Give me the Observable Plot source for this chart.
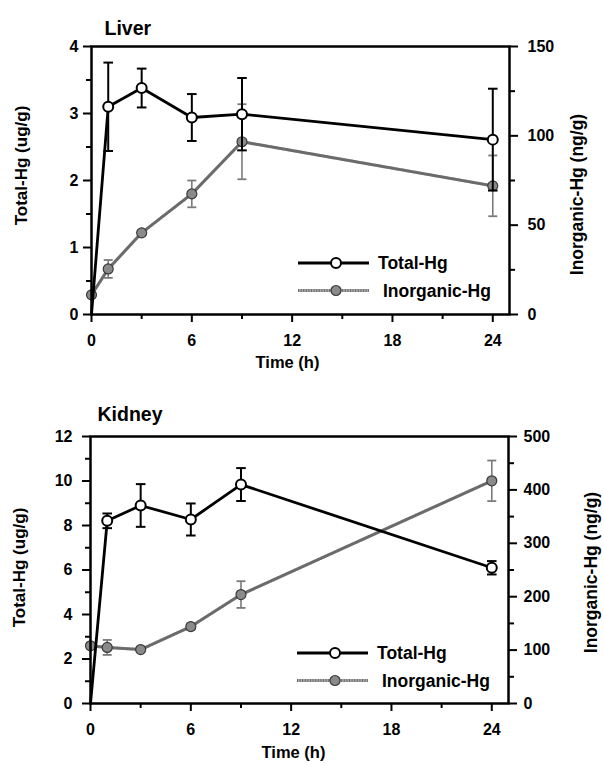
<!DOCTYPE html>
<html><head><meta charset="utf-8">
<script src="https://cdn.jsdelivr.net/npm/d3@7"></script>
<script src="https://cdn.jsdelivr.net/npm/@observablehq/plot@0.6"></script>
<style>
body{margin:0;background:#fff;}
#root{width:604px;height:766px;position:relative;overflow:hidden;background:#fff;}
svg{display:block;}
</style>
</head><body><div id="root"></div>
<script>
// ---- data ----
const times = [0, 1, 3, 6, 9, 24];
const xMajorTicks = [0, 6, 12, 18, 24];
const xMinorTicks = [3, 9, 15, 21];
const seriesNames = ["Total-Hg", "Inorganic-Hg"];
const xLabel = "Time (h)";
const leftLabel = "Total-Hg (ug/g)";
const rightLabel = "Inorganic-Hg (ng/g)";

const liverTitle = "Liver";
const liverTotal = [0, 3.10, 3.38, 2.94, 2.99, 2.61];
const liverTotalErr = [0, 0.66, 0.29, 0.35, 0.54, 0.76];
const liverInorg = [11, 25.5, 45.7, 67.5, 96.7, 72];
const liverInorgErr = [0, 5, 1.5, 7.5, 21, 17];
const liverLeftTicks = [0, 1, 2, 3, 4];
const liverLeftMinor = [0.5, 1.5, 2.5, 3.5];
const liverRightTicks = [0, 50, 100, 150];
const liverRightMinor = [25, 75, 125];

const kidneyTitle = "Kidney";
const kidneyTotal = [0, 8.21, 8.9, 8.27, 9.84, 6.1];
const kidneyTotalErr = [0, 0.33, 0.96, 0.72, 0.74, 0.3];
const kidneyInorg = [108, 105, 101, 144, 204, 417];
const kidneyInorgErr = [5, 14, 3, 6, 25, 38];
const kidneyLeftTicks = [0, 2, 4, 6, 8, 10, 12];
const kidneyLeftMinor = [1, 3, 5, 7, 9, 11];
const kidneyRightTicks = [0, 100, 200, 300, 400, 500];
const kidneyRightMinor = [50, 150, 250, 350, 450];

// ---- styling ----
const FONT = '"Liberation Sans", Arial, Helvetica, sans-serif';
const INORG_BASE = "#a8a8a8";
const INORG_DARK = "#4a4a4a";

const capSymbol = { draw(ctx, size) { const r = Math.sqrt(size / Math.PI); ctx.moveTo(-r, 0); ctx.lineTo(r, 0); } };

function panel(cfg) {
  const k = cfg.yMax / cfg.rMax;
  const rows = times.map((t, i) => ({
    t,
    total: cfg.total[i], tErr: cfg.totalErr[i],
    inorg: cfg.inorg[i] * k, iErr: cfg.inorgErr[i] * k
  }));
  const tot = rows.filter(d => d.t > 0);
  const totE = rows.filter(d => d.tErr > 0);
  const inoE = rows.filter(d => d.iErr > 0);
  const svg = Plot.plot({
    width: 604, height: 383,
    marginLeft: cfg.m[0], marginRight: cfg.m[1], marginTop: cfg.m[2], marginBottom: cfg.m[3],
    x: { domain: [0, 25] },
    y: { domain: [0, cfg.yMax] },
    style: { fontFamily: FONT, fontSize: "16px", fontWeight: "bold", color: "black", background: "transparent" },
    marks: [
      // inorganic error bars
      Plot.ruleX(inoE, { x: "t", y1: d => d.inorg - d.iErr, y2: d => d.inorg + d.iErr, stroke: "#7a7a7a", strokeWidth: 1.6 }),
      Plot.dot(inoE, { x: "t", y: d => d.inorg - d.iErr, symbol: capSymbol, r: 4.5, stroke: "#7a7a7a", strokeWidth: 1.8 }),
      Plot.dot(inoE, { x: "t", y: d => d.inorg + d.iErr, symbol: capSymbol, r: 4.5, stroke: "#7a7a7a", strokeWidth: 1.8 }),
      // inorganic line
      Plot.line(rows, { x: "t", y: "inorg", stroke: INORG_BASE, strokeWidth: 3 }),
      Plot.line(rows, { x: "t", y: "inorg", stroke: INORG_DARK, strokeWidth: 3, strokeDasharray: "1 1.6", strokeOpacity: 0.65 }),
      Plot.dot(rows, { x: "t", y: "inorg", r: 5, fill: "#8a8a8a", stroke: "#3a3a3a", strokeWidth: 1.2 }),
      // total error bars
      Plot.ruleX(totE, { x: "t", y1: d => d.total - d.tErr, y2: d => d.total + d.tErr, stroke: "black", strokeWidth: 2 }),
      Plot.dot(totE, { x: "t", y: d => d.total - d.tErr, symbol: capSymbol, r: 4.8, stroke: "black", strokeWidth: 2 }),
      Plot.dot(totE, { x: "t", y: d => d.total + d.tErr, symbol: capSymbol, r: 4.8, stroke: "black", strokeWidth: 2 }),
      // total line
      Plot.line(rows, { x: "t", y: "total", stroke: "black", strokeWidth: 2.8 }),
      Plot.dot(tot, { x: "t", y: "total", r: 5, fill: "white", stroke: "black", strokeWidth: 2 }),
      // frame & axes
      Plot.frame({ stroke: "black", strokeWidth: 2.5 }),
      Plot.axisX({ ticks: xMajorTicks, tickSize: 8, tickPadding: cfg.xPad, strokeWidth: 2, label: null, fontSize: 16, tickFormat: d => String(d) }),
      Plot.axisX({ ticks: xMinorTicks, tickSize: 5, strokeWidth: 2, tickFormat: () => "", label: null }),
      Plot.axisY({ ticks: cfg.leftTicks, anchor: "left", tickSize: 8, tickPadding: cfg.lPad, strokeWidth: 2, label: null, fontSize: 16, tickFormat: d => String(d) }),
      Plot.axisY({ ticks: cfg.leftMinor, anchor: "left", tickSize: 5, strokeWidth: 2, tickFormat: () => "", label: null }),
      Plot.axisY({ ticks: cfg.rightTicks.map(v => v * k), anchor: "right", tickSize: 8, tickPadding: cfg.rPad, strokeWidth: 2,
        tickFormat: d => String(Math.round(d / k)), label: null, fontSize: 16 }),
      Plot.axisY({ ticks: cfg.rightMinor.map(v => v * k), anchor: "right", tickSize: 5, strokeWidth: 2, tickFormat: () => "", label: null }),
      // texts
      Plot.text([cfg.title], { text: d => d, frameAnchor: "top-left", textAnchor: "start", dx: cfg.titleD[0], dy: cfg.titleD[1], fontSize: 19.5, fontWeight: "bold" }),
      Plot.text([xLabel], { text: d => d, frameAnchor: "bottom", textAnchor: "middle", dx: cfg.xLabD[0], dy: cfg.xLabD[1], fontSize: 16.5, fontWeight: "bold" }),
      Plot.text([leftLabel], { text: d => d, frameAnchor: "left", textAnchor: "middle", rotate: -90, dx: cfg.lLabD[0], dy: cfg.lLabD[1], fontSize: 17, fontWeight: "bold" }),
      Plot.text([rightLabel], { text: d => d, frameAnchor: "right", textAnchor: "middle", rotate: -90, dx: cfg.rLabD[0], dy: cfg.rLabD[1], fontSize: 17.5, fontWeight: "bold" })
    ]
  });
  // legend (inside frame, lower right)
  const g = d3.select(svg).append("g").attr("transform", `translate(${cfg.m[0]},${cfg.m[2]})`);
  const L = { x1: 207, x2: 278, xm: 245, y: [217, 244.5], tx: [287, 292] };
  g.append("line").attr("x1", L.x1).attr("x2", L.x2).attr("y1", L.y[0]).attr("y2", L.y[0]).attr("stroke", "black").attr("stroke-width", 2.8);
  g.append("circle").attr("cx", L.xm).attr("cy", L.y[0]).attr("r", 5).attr("fill", "white").attr("stroke", "black").attr("stroke-width", 2);
  g.append("line").attr("x1", L.x1).attr("x2", L.x2).attr("y1", L.y[1]).attr("y2", L.y[1]).attr("stroke", INORG_BASE).attr("stroke-width", 3);
  g.append("line").attr("x1", L.x1).attr("x2", L.x2).attr("y1", L.y[1]).attr("y2", L.y[1]).attr("stroke", INORG_DARK).attr("stroke-width", 3).attr("stroke-dasharray", "1 1.6").attr("stroke-opacity", 0.65);
  g.append("circle").attr("cx", L.xm).attr("cy", L.y[1]).attr("r", 5).attr("fill", "#8a8a8a").attr("stroke", "#3a3a3a").attr("stroke-width", 1.2);
  seriesNames.forEach((name, i) => {
    g.append("text").attr("x", L.tx[i]).attr("y", L.y[i]).attr("dy", "0.35em").attr("text-anchor", "start")
      .attr("font-family", FONT).attr("font-size", 17.5).attr("font-weight", "bold").attr("fill", "black").text(name);
  });
  return svg;
}

const root = document.getElementById("root");
root.appendChild(panel({
  title: liverTitle, total: liverTotal, totalErr: liverTotalErr, inorg: liverInorg, inorgErr: liverInorgErr,
  yMax: 4, rMax: 150, leftTicks: liverLeftTicks, leftMinor: liverLeftMinor, rightTicks: liverRightTicks, rightMinor: liverRightMinor,
  m: [91, 95, 46, 69], xPad: 12, lPad: 5, rPad: 10,
  titleD: [13, -25], xLabD: [-13, 53], lLabD: [-70, -15], rLabD: [67.5, 14]
}));
root.appendChild(panel({
  title: kidneyTitle, total: kidneyTotal, totalErr: kidneyTotalErr, inorg: kidneyInorg, inorgErr: kidneyInorgErr,
  yMax: 12, rMax: 500, leftTicks: kidneyLeftTicks, leftMinor: kidneyLeftMinor, rightTicks: kidneyRightTicks, rightMinor: kidneyRightMinor,
  m: [90, 96, 53, 63], xPad: 12, lPad: 10, rPad: 7,
  titleD: [7, -29], xLabD: [-6, 54], lLabD: [-70.5, -2.5], rLabD: [83, 2.5]
}));
</script>
</body></html>
